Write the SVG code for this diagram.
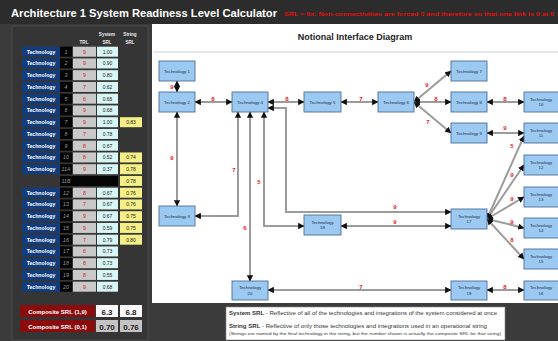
<svg xmlns="http://www.w3.org/2000/svg" width="558" height="341" viewBox="0 0 558 341">
<defs>
<marker id="ah" viewBox="0 0 6 6" refX="5.5" refY="3" markerWidth="3.2" markerHeight="3.2" orient="auto-start-reverse"><path d="M0,0 L6,3 L0,6 z" fill="#111"/></marker>
<style>
text{font-family:"Liberation Sans",Arial,sans-serif}
.ttl{font-size:11px;font-weight:bold;fill:#fff}
.red{font-size:5.5px;font-weight:bold;fill:#e01010}
.hdr{font-size:4.6px;font-weight:bold;fill:#e8e8e8;text-anchor:middle}
.tc{fill:#123c7c}
.tct{font-size:5.2px;font-weight:bold;fill:#fff;text-anchor:middle}
.nc{fill:#050505}
.nct{font-size:5.2px;font-style:italic;fill:#9a9a9a;text-anchor:middle}
.trl{fill:#c9c9c9}
.trlt{font-size:5.2px;fill:#d42020;text-anchor:middle}
.srl{fill:#d9f6f6}
.srlt{font-size:5px;fill:#1a1a1a;text-anchor:middle}
.str{fill:#f4ef86}
.node rect{fill:#9cc9f2;stroke:#4a6f96;stroke-width:0.9}
.node text{font-size:4.4px;fill:#1c2c44;text-anchor:middle}
.cn path{fill:none;stroke:#9b9b9b;stroke-width:2;marker-start:url(#ah);marker-end:url(#ah)}
.lbl{font-size:6px;font-weight:bold;fill:#e82020;text-anchor:middle}
.leg{font-size:5.3px;fill:#333}
</style>
</defs>
<rect x="0" y="0" width="558" height="341" fill="#3b3b3b"/>
<rect x="0" y="0" width="558" height="24" fill="#2c2c2c"/>
<text class="ttl" x="11" y="17" textLength="266" lengthAdjust="spacingAndGlyphs">Architecture 1 System Readiness Level Calculator</text>
<text class="red" x="284" y="16" textLength="270" lengthAdjust="spacingAndGlyphs">SRL = 0x: Non-connectivities are forced 0 and therefore so that one link is 0 at 0</text>

<!-- left table panel -->
<rect x="12" y="26" width="136" height="314" fill="#353535" stroke="#4a4a4a" stroke-width="1"/>
<text class="hdr" x="84" y="44">TRL</text>
<text class="hdr" x="107" y="36">System</text>
<text class="hdr" x="107" y="44">SRL</text>
<text class="hdr" x="130" y="36">String</text>
<text class="hdr" x="130" y="44">SRL</text>

<g id="table">
<g transform="translate(0,46.7)"><rect class="tc" x="22" y="0" width="38" height="10"/><text class="tct" x="41" y="7">Technology</text><rect class="nc" x="60" y="0" width="12" height="10"/><text class="nct" x="66" y="7">1</text><rect class="trl" x="73" y="0" width="23" height="10"/><text class="trlt" x="84.5" y="7">9</text><rect class="srl" x="97" y="0" width="21" height="10"/><text class="srlt" x="107.5" y="7">1.00</text></g>
<g transform="translate(0,58.45)"><rect class="tc" x="22" y="0" width="38" height="10"/><text class="tct" x="41" y="7">Technology</text><rect class="nc" x="60" y="0" width="12" height="10"/><text class="nct" x="66" y="7">2</text><rect class="trl" x="73" y="0" width="23" height="10"/><text class="trlt" x="84.5" y="7">9</text><rect class="srl" x="97" y="0" width="21" height="10"/><text class="srlt" x="107.5" y="7">0.90</text></g>
<g transform="translate(0,70.2)"><rect class="tc" x="22" y="0" width="38" height="10"/><text class="tct" x="41" y="7">Technology</text><rect class="nc" x="60" y="0" width="12" height="10"/><text class="nct" x="66" y="7">3</text><rect class="trl" x="73" y="0" width="23" height="10"/><text class="trlt" x="84.5" y="7">9</text><rect class="srl" x="97" y="0" width="21" height="10"/><text class="srlt" x="107.5" y="7">0.80</text></g>
<g transform="translate(0,81.95)"><rect class="tc" x="22" y="0" width="38" height="10"/><text class="tct" x="41" y="7">Technology</text><rect class="nc" x="60" y="0" width="12" height="10"/><text class="nct" x="66" y="7">4</text><rect class="trl" x="73" y="0" width="23" height="10"/><text class="trlt" x="84.5" y="7">7</text><rect class="srl" x="97" y="0" width="21" height="10"/><text class="srlt" x="107.5" y="7">0.62</text></g>
<g transform="translate(0,93.7)"><rect class="tc" x="22" y="0" width="38" height="10"/><text class="tct" x="41" y="7">Technology</text><rect class="nc" x="60" y="0" width="12" height="10"/><text class="nct" x="66" y="7">5</text><rect class="trl" x="73" y="0" width="23" height="10"/><text class="trlt" x="84.5" y="7">6</text><rect class="srl" x="97" y="0" width="21" height="10"/><text class="srlt" x="107.5" y="7">0.65</text></g>
<g transform="translate(0,105.45)"><rect class="tc" x="22" y="0" width="38" height="10"/><text class="tct" x="41" y="7">Technology</text><rect class="nc" x="60" y="0" width="12" height="10"/><text class="nct" x="66" y="7">6</text><rect class="trl" x="73" y="0" width="23" height="10"/><text class="trlt" x="84.5" y="7">9</text><rect class="srl" x="97" y="0" width="21" height="10"/><text class="srlt" x="107.5" y="7">0.68</text></g>
<g transform="translate(0,117.2)"><rect class="tc" x="22" y="0" width="38" height="10"/><text class="tct" x="41" y="7">Technology</text><rect class="nc" x="60" y="0" width="12" height="10"/><text class="nct" x="66" y="7">7</text><rect class="trl" x="73" y="0" width="23" height="10"/><text class="trlt" x="84.5" y="7">9</text><rect class="srl" x="97" y="0" width="21" height="10"/><text class="srlt" x="107.5" y="7">1.00</text><rect class="str" x="120" y="0" width="22" height="10"/><text class="srlt" x="131" y="7">0.83</text></g>
<g transform="translate(0,128.95)"><rect class="tc" x="22" y="0" width="38" height="10"/><text class="tct" x="41" y="7">Technology</text><rect class="nc" x="60" y="0" width="12" height="10"/><text class="nct" x="66" y="7">8</text><rect class="trl" x="73" y="0" width="23" height="10"/><text class="trlt" x="84.5" y="7">7</text><rect class="srl" x="97" y="0" width="21" height="10"/><text class="srlt" x="107.5" y="7">0.78</text></g>
<g transform="translate(0,140.7)"><rect class="tc" x="22" y="0" width="38" height="10"/><text class="tct" x="41" y="7">Technology</text><rect class="nc" x="60" y="0" width="12" height="10"/><text class="nct" x="66" y="7">9</text><rect class="trl" x="73" y="0" width="23" height="10"/><text class="trlt" x="84.5" y="7">8</text><rect class="srl" x="97" y="0" width="21" height="10"/><text class="srlt" x="107.5" y="7">0.67</text></g>
<g transform="translate(0,152.45)"><rect class="tc" x="22" y="0" width="38" height="10"/><text class="tct" x="41" y="7">Technology</text><rect class="nc" x="60" y="0" width="12" height="10"/><text class="nct" x="66" y="7">10</text><rect class="trl" x="73" y="0" width="23" height="10"/><text class="trlt" x="84.5" y="7">8</text><rect class="srl" x="97" y="0" width="21" height="10"/><text class="srlt" x="107.5" y="7">0.52</text><rect class="str" x="120" y="0" width="22" height="10"/><text class="srlt" x="131" y="7">0.74</text></g>
<g transform="translate(0,164.2)"><rect class="tc" x="22" y="0" width="38" height="10"/><text class="tct" x="41" y="7">Technology</text><rect class="nc" x="60" y="0" width="12" height="10"/><text class="nct" x="66" y="7">11A</text><rect class="trl" x="73" y="0" width="23" height="10"/><text class="trlt" x="84.5" y="7">9</text><rect class="srl" x="97" y="0" width="21" height="10"/><text class="srlt" x="107.5" y="7">0.37</text><rect class="str" x="120" y="0" width="22" height="10"/><text class="srlt" x="131" y="7">0.78</text></g>
<g transform="translate(0,175.95)"><rect class="nc" x="60" y="0" width="58" height="10"/><text class="nct" x="66" y="7">11B</text><rect class="str" x="120" y="0" width="22" height="10"/><text class="srlt" x="131" y="7">0.78</text></g>
<g transform="translate(0,187.7)"><rect class="tc" x="22" y="0" width="38" height="10"/><text class="tct" x="41" y="7">Technology</text><rect class="nc" x="60" y="0" width="12" height="10"/><text class="nct" x="66" y="7">12</text><rect class="trl" x="73" y="0" width="23" height="10"/><text class="trlt" x="84.5" y="7">8</text><rect class="srl" x="97" y="0" width="21" height="10"/><text class="srlt" x="107.5" y="7">0.67</text><rect class="str" x="120" y="0" width="22" height="10"/><text class="srlt" x="131" y="7">0.76</text></g>
<g transform="translate(0,199.45)"><rect class="tc" x="22" y="0" width="38" height="10"/><text class="tct" x="41" y="7">Technology</text><rect class="nc" x="60" y="0" width="12" height="10"/><text class="nct" x="66" y="7">13</text><rect class="trl" x="73" y="0" width="23" height="10"/><text class="trlt" x="84.5" y="7">7</text><rect class="srl" x="97" y="0" width="21" height="10"/><text class="srlt" x="107.5" y="7">0.67</text><rect class="str" x="120" y="0" width="22" height="10"/><text class="srlt" x="131" y="7">0.76</text></g>
<g transform="translate(0,211.2)"><rect class="tc" x="22" y="0" width="38" height="10"/><text class="tct" x="41" y="7">Technology</text><rect class="nc" x="60" y="0" width="12" height="10"/><text class="nct" x="66" y="7">14</text><rect class="trl" x="73" y="0" width="23" height="10"/><text class="trlt" x="84.5" y="7">9</text><rect class="srl" x="97" y="0" width="21" height="10"/><text class="srlt" x="107.5" y="7">0.67</text><rect class="str" x="120" y="0" width="22" height="10"/><text class="srlt" x="131" y="7">0.75</text></g>
<g transform="translate(0,222.95)"><rect class="tc" x="22" y="0" width="38" height="10"/><text class="tct" x="41" y="7">Technology</text><rect class="nc" x="60" y="0" width="12" height="10"/><text class="nct" x="66" y="7">15</text><rect class="trl" x="73" y="0" width="23" height="10"/><text class="trlt" x="84.5" y="7">9</text><rect class="srl" x="97" y="0" width="21" height="10"/><text class="srlt" x="107.5" y="7">0.59</text><rect class="str" x="120" y="0" width="22" height="10"/><text class="srlt" x="131" y="7">0.75</text></g>
<g transform="translate(0,234.7)"><rect class="tc" x="22" y="0" width="38" height="10"/><text class="tct" x="41" y="7">Technology</text><rect class="nc" x="60" y="0" width="12" height="10"/><text class="nct" x="66" y="7">16</text><rect class="trl" x="73" y="0" width="23" height="10"/><text class="trlt" x="84.5" y="7">7</text><rect class="srl" x="97" y="0" width="21" height="10"/><text class="srlt" x="107.5" y="7">0.79</text><rect class="str" x="120" y="0" width="22" height="10"/><text class="srlt" x="131" y="7">0.80</text></g>
<g transform="translate(0,246.45)"><rect class="tc" x="22" y="0" width="38" height="10"/><text class="tct" x="41" y="7">Technology</text><rect class="nc" x="60" y="0" width="12" height="10"/><text class="nct" x="66" y="7">17</text><rect class="trl" x="73" y="0" width="23" height="10"/><text class="trlt" x="84.5" y="7">6</text><rect class="srl" x="97" y="0" width="21" height="10"/><text class="srlt" x="107.5" y="7">0.73</text></g>
<g transform="translate(0,258.2)"><rect class="tc" x="22" y="0" width="38" height="10"/><text class="tct" x="41" y="7">Technology</text><rect class="nc" x="60" y="0" width="12" height="10"/><text class="nct" x="66" y="7">18</text><rect class="trl" x="73" y="0" width="23" height="10"/><text class="trlt" x="84.5" y="7">8</text><rect class="srl" x="97" y="0" width="21" height="10"/><text class="srlt" x="107.5" y="7">0.73</text></g>
<g transform="translate(0,269.95)"><rect class="tc" x="22" y="0" width="38" height="10"/><text class="tct" x="41" y="7">Technology</text><rect class="nc" x="60" y="0" width="12" height="10"/><text class="nct" x="66" y="7">19</text><rect class="trl" x="73" y="0" width="23" height="10"/><text class="trlt" x="84.5" y="7">8</text><rect class="srl" x="97" y="0" width="21" height="10"/><text class="srlt" x="107.5" y="7">0.55</text></g>
<g transform="translate(0,281.7)"><rect class="tc" x="22" y="0" width="38" height="10"/><text class="tct" x="41" y="7">Technology</text><rect class="nc" x="60" y="0" width="12" height="10"/><text class="nct" x="66" y="7">20</text><rect class="trl" x="73" y="0" width="23" height="10"/><text class="trlt" x="84.5" y="7">9</text><rect class="srl" x="97" y="0" width="21" height="10"/><text class="srlt" x="107.5" y="7">0.68</text></g>
</g>

<g id="composite">
<rect x="20" y="305" width="75" height="12" fill="#8a0c0c"/>
<text x="57.5" y="313.5" font-size="6px" font-weight="bold" fill="#fff" text-anchor="middle">Composite SRL (1,9)</text>
<rect x="96" y="305" width="22" height="12" fill="#fafafa"/>
<text x="107" y="314.5" font-size="8px" font-weight="bold" fill="#222" text-anchor="middle">6.3</text>
<rect x="120" y="305" width="22" height="12" fill="#fafafa"/>
<text x="131" y="314.5" font-size="8px" font-weight="bold" fill="#222" text-anchor="middle">6.8</text>
<rect x="20" y="320" width="75" height="12" fill="#8a0c0c"/>
<text x="57.5" y="328.5" font-size="6px" font-weight="bold" fill="#fff" text-anchor="middle">Composite SRL (0,1)</text>
<rect x="96" y="320" width="22" height="12" fill="#c4c4c4"/>
<text x="107" y="329.5" font-size="8px" font-weight="bold" fill="#222" text-anchor="middle">0.70</text>
<rect x="120" y="320" width="22" height="12" fill="#c4c4c4"/>
<text x="131" y="329.5" font-size="8px" font-weight="bold" fill="#222" text-anchor="middle">0.76</text>
</g>

<!-- diagram panel -->
<rect x="152" y="24" width="406" height="279" fill="#ffffff"/>
<text x="355" y="40" font-size="9px" font-weight="bold" fill="#222" text-anchor="middle">Notional Interface Diagram</text>
<line x1="154" y1="52" x2="558" y2="52" stroke="#cfcfcf" stroke-width="1"/>

<g id="connectors" class="cn">
<path d="M177,81 V92"/>
<path d="M195,102 H232"/>
<path d="M268,102 H304"/>
<path d="M341,102 H378"/>
<path d="M414,102 L451,71"/>
<path d="M414,102 H451"/>
<path d="M414,102 L451,133"/>
<path d="M487,102 H524"/>
<path d="M487,133 H524"/>
<path d="M177,112 V206"/>
<path d="M195,216 H238 V112"/>
<path d="M250,281 V112"/>
<path d="M264,112 V226 H304"/>
<path d="M451,212 H286 V108 H268"/>
<path d="M341,226 H451"/>
<path d="M487,219 L524,136"/>
<path d="M487,219 L524,165"/>
<path d="M487,219 L524,197"/>
<path d="M487,219 L524,228"/>
<path d="M487,219 L524,259"/>
<path d="M268,290 H451"/>
<path d="M487,290 H524"/>
</g>
<g id="labels">
<text class="lbl" x="172" y="89">9</text>
<text class="lbl" x="213" y="101">8</text>
<text class="lbl" x="287" y="101">8</text>
<text class="lbl" x="361" y="101">7</text>
<text class="lbl" x="427" y="87">9</text>
<text class="lbl" x="436" y="101">8</text>
<text class="lbl" x="428" y="124">7</text>
<text class="lbl" x="505" y="101">8</text>
<text class="lbl" x="505" y="130">9</text>
<text class="lbl" x="172" y="160">9</text>
<text class="lbl" x="234" y="172">7</text>
<text class="lbl" x="245" y="230">6</text>
<text class="lbl" x="259" y="184">5</text>
<text class="lbl" x="395" y="209">9</text>
<text class="lbl" x="395" y="224">9</text>
<text class="lbl" x="512" y="148">5</text>
<text class="lbl" x="512" y="177">9</text>
<text class="lbl" x="512" y="201">9</text>
<text class="lbl" x="512" y="224">9</text>
<text class="lbl" x="512" y="242">8</text>
<text class="lbl" x="361" y="289">7</text>
<text class="lbl" x="505" y="289">8</text>
</g>

<g id="t1" class="node"><rect x="159" y="61" width="36" height="20"/><text x="177" y="72.5">Technology 1</text></g>
<g id="t2" class="node"><rect x="159" y="92" width="36" height="20"/><text x="177" y="103.5">Technology 2</text></g>
<g id="t3" class="node"><rect x="159" y="206" width="36" height="20"/><text x="177" y="217.5">Technology 3</text></g>
<g id="t4" class="node"><rect x="232" y="92" width="36" height="20"/><text x="250" y="103.5">Technology 4</text></g>
<g id="t5" class="node"><rect x="304" y="92" width="37" height="20"/><text x="322.5" y="103.5">Technology 5</text></g>
<g id="t6" class="node"><rect x="378" y="92" width="36" height="20"/><text x="396" y="103.5">Technology 6</text></g>
<g id="t7" class="node"><rect x="451" y="61" width="36" height="20"/><text x="469" y="72.5">Technology 7</text></g>
<g id="t8" class="node"><rect x="451" y="92" width="36" height="20"/><text x="469" y="103.5">Technology 8</text></g>
<g id="t9" class="node"><rect x="451" y="123" width="36" height="20"/><text x="469" y="134.5">Technology 9</text></g>
<g id="t10" class="node"><rect x="524" y="92" width="36" height="20"/><text x="541" y="100.5">Technology</text><text x="541" y="106">10</text></g>
<g id="t11" class="node"><rect x="524" y="123" width="36" height="20"/><text x="541" y="131.5">Technology</text><text x="541" y="137">11</text></g>
<g id="t12" class="node"><rect x="524" y="155" width="36" height="20"/><text x="541" y="163.5">Technology</text><text x="541" y="169">12</text></g>
<g id="t13" class="node"><rect x="524" y="187" width="36" height="20"/><text x="541" y="195.5">Technology</text><text x="541" y="201">13</text></g>
<g id="t14" class="node"><rect x="524" y="218" width="36" height="20"/><text x="541" y="226.5">Technology</text><text x="541" y="232">14</text></g>
<g id="t15" class="node"><rect x="524" y="249" width="36" height="20"/><text x="541" y="257.5">Technology</text><text x="541" y="263">15</text></g>
<g id="t16" class="node"><rect x="524" y="281" width="36" height="19"/><text x="541" y="289">Technology</text><text x="541" y="294.5">16</text></g>
<g id="t17" class="node"><rect x="451" y="209" width="36" height="20"/><text x="469" y="217.5">Technology</text><text x="469" y="223">17</text></g>
<g id="t18" class="node"><rect x="304" y="215" width="37" height="20"/><text x="322.5" y="223.5">Technology</text><text x="322.5" y="229">18</text></g>
<g id="t19" class="node"><rect x="451" y="281" width="36" height="19"/><text x="469" y="289">Technology</text><text x="469" y="294.5">19</text></g>
<g id="t20" class="node"><rect x="232" y="281" width="36" height="19"/><text x="250" y="289">Technology</text><text x="250" y="294.5">20</text></g>

<g id="legend">
<rect x="226" y="307" width="279" height="33" fill="#ffffff" stroke="#888" stroke-width="0.6"/>
<text class="leg" x="229" y="314.5" textLength="268" lengthAdjust="spacingAndGlyphs"><tspan font-weight="bold">System SRL</tspan> - Reflective of all of the technologies and integrations of the system considered at once</text>
<text class="leg" x="229" y="328" textLength="258" lengthAdjust="spacingAndGlyphs"><tspan font-weight="bold">String SRL</tspan> - Reflective of only those technologies and integrations used in an operational string</text>
<text x="229" y="335" font-size="4.1px" fill="#333" textLength="272" lengthAdjust="spacingAndGlyphs">(Strings are named by the final technology in the string, but the number shown is actually the composite SRL for that string)</text>
</g>
</svg>
